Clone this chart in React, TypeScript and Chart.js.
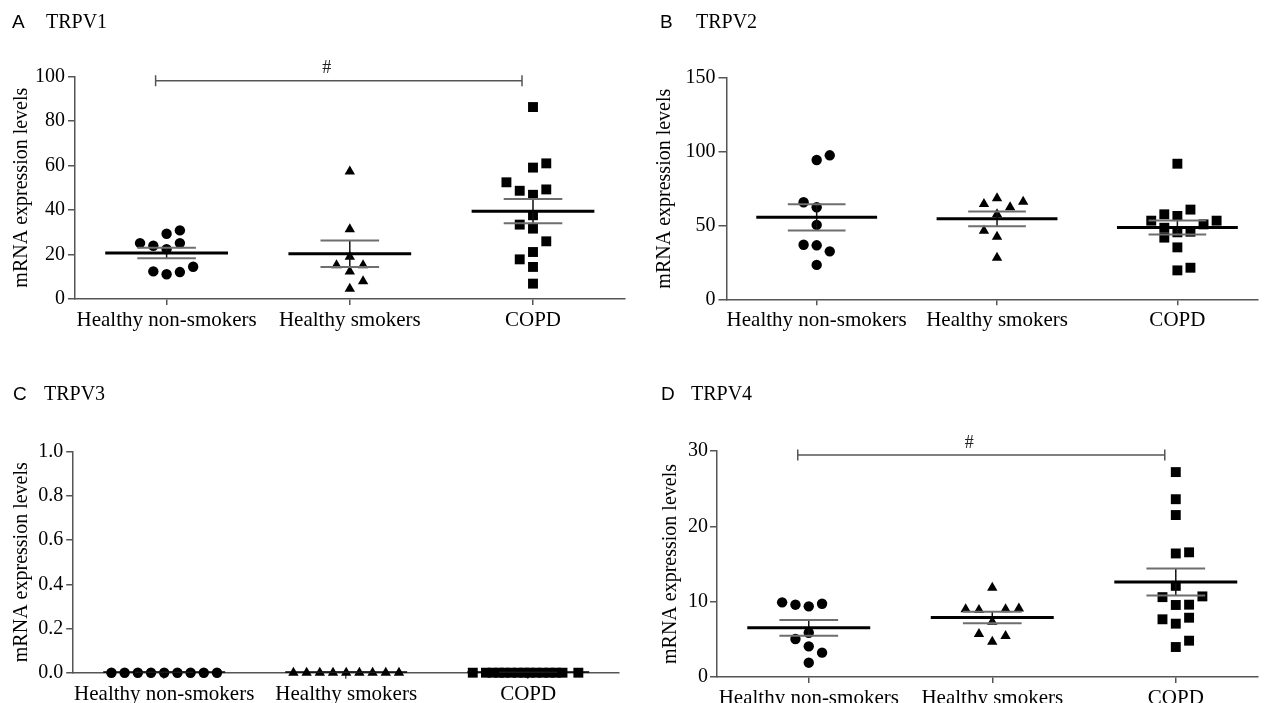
import React, { useEffect, useRef } from 'react';
import { Chart, registerables } from 'chart.js';

Chart.register(...registerables);

// ---------------- Data ----------------
const GROUPS = ['Healthy non-smokers', 'Healthy smokers', 'COPD'];

// TRPV1
const TRPV1_NS = [25.1, 23.9, 29.3, 30.8, 25.1, 22.4, 12.4, 11.1, 12.1, 14.5];
const TRPV1_NS_SLOT = [-2, -1, 0, 1, 1, 0, -1, 0, 1, 2];
const TRPV1_S = [57.2, 31.3, 19.0, 15.1, 15.1, 12.4, 8.0, 4.6];
const TRPV1_S_SLOT = [0, 0, 0, -1, 1, 0, 1, 0];
const TRPV1_COPD = [86.2, 60.9, 59.0, 52.4, 48.6, 49.2, 46.8, 37.6, 33.4, 31.6, 25.9, 21.1, 17.8, 14.4, 6.9];
const TRPV1_COPD_SLOT = [0, 1, 0, -2, -1, 1, 0, 0, -1, 0, 1, 0, -1, 0, 0];

// TRPV2
const TRPV2_NS = [94.4, 97.6, 65.8, 62.4, 50.4, 37.0, 36.6, 32.5, 23.3];
const TRPV2_NS_SLOT = [0, 1, -1, 0, 0, -1, 0, 1, 0];
const TRPV2_S = [68.5, 64.6, 62.4, 66.2, 57.6, 46.5, 42.4, 28.2];
const TRPV2_S_SLOT = [0, -1, 1, 2, 0, -1, 0, 0];
const TRPV2_COPD = [91.9, 60.8, 57.6, 56.5, 53.3, 53.3, 50.8, 48.5, 45.4, 45.8, 41.8, 35.2, 21.4, 19.6];
const TRPV2_COPD_SLOT = [0, 1, -1, 0, -2, 3, 2, -1, 0, 1, -1, 0, 1, 0];

// TRPV3
const TRPV3_NS = [0, 0, 0, 0, 0, 0, 0, 0, 0];
const TRPV3_NS_SLOT = [-4, -3, -2, -1, 0, 1, 2, 3, 4];
const TRPV3_S = [0, 0, 0, 0, 0, 0, 0, 0, 0];
const TRPV3_S_SLOT = [-4, -3, -2, -1, 0, 1, 2, 3, 4];
const TRPV3_COPD = [0, 0, 0, 0, 0, 0, 0, 0, 0, 0, 0, 0, 0, 0, 0];
const TRPV3_COPD_SLOT = [-4.2, -3.2, -2.7, -2.2, -1.8, -1.3, -0.8, -0.3, 0.1, 0.6, 1.1, 1.6, 2.1, 2.6, 3.8];

// TRPV4
const TRPV4_NS = [9.91, 9.6, 9.38, 9.73, 5.88, 5.04, 4.07, 3.23, 1.9];
const TRPV4_NS_SLOT = [-2, -1, 0, 1, 0, -1, 0, 1, 0];
const TRPV4_S = [11.85, 8.98, 8.89, 8.98, 9.1, 7.35, 5.7, 5.44, 4.69];
const TRPV4_S_SLOT = [0, -2, -1, 1, 2, 0, -1, 1, 0];
const TRPV4_COPD = [27.2, 23.6, 21.5, 16.4, 16.55, 12.1, 10.6, 10.7, 9.56, 9.6, 7.66, 7.87, 7.08, 4.82, 3.98];
const TRPV4_COPD_SLOT = [0, 0, 0, 0, 1, 0, -1, 2, 0, 1, -1, 1, 0, 1, 0];

// Y-axis ticks
const TRPV1_TICKS = [0, 20, 40, 60, 80, 100];
const TRPV2_TICKS = [0, 50, 100, 150];
const TRPV3_TICKS = [0, 0.2, 0.4, 0.6, 0.8, 1.0];
const TRPV4_TICKS = [0, 10, 20, 30];

// Significance brackets (group indices, y value, label)
const TRPV1_BRACKET = { from: 1, to: 3, y: 98, label: '#' };
const TRPV4_BRACKET = { from: 1, to: 3, y: 29.47, label: '#' };

// ---------------- Styles ----------------
const SERIF = "'Liberation Serif', 'Times New Roman', Times, serif";
const SANS = "'Liberation Sans', Arial, Helvetica, sans-serif";
const W = 1265;
const H = 703;
const STEP = 0.0725;
const MEAN_HALF = 0.335;
const SEM_HALF = 0.16;
const BRACKET_SHIFT = -0.06;
const AXIS_COLOR = '#555';
const MARKERS = [
  { style: 'circle', radius: 5.2 },
  { style: 'triangle', radius: 6 },
  { style: 'rect', radius: 7 },
];

type Series = { values: number[]; slots: number[] };
type PanelCfg = {
  letter: string;
  title: string;
  series: Series[];
  ticks: number[];
  decimals: number;
  xMax: number;
  bracket?: { from: number; to: number; y: number; label: string };
  box: { left: number; right: number; top: number; bottom: number; titleX: number; tickLen: number; tickPad: number };
  head: { letterX: number; titleX: number; baseline: number };
};

const PANELS: PanelCfg[] = [
  {
    letter: 'A',
    title: 'TRPV1',
    series: [
      { values: TRPV1_NS, slots: TRPV1_NS_SLOT },
      { values: TRPV1_S, slots: TRPV1_S_SLOT },
      { values: TRPV1_COPD, slots: TRPV1_COPD_SLOT },
    ],
    ticks: TRPV1_TICKS,
    decimals: 0,
    xMax: 3.5,
    bracket: TRPV1_BRACKET,
    box: { left: 75, right: 624.6, top: 76.3, bottom: 299, titleX: 22, tickLen: 7, tickPad: 3 },
    head: { letterX: 12, titleX: 46, baseline: 28 },
  },
  {
    letter: 'B',
    title: 'TRPV2',
    series: [
      { values: TRPV2_NS, slots: TRPV2_NS_SLOT },
      { values: TRPV2_S, slots: TRPV2_S_SLOT },
      { values: TRPV2_COPD, slots: TRPV2_COPD_SLOT },
    ],
    ticks: TRPV2_TICKS,
    decimals: 0,
    xMax: 3.447,
    box: { left: 726.5, right: 1265, top: 78, bottom: 299.3, titleX: 664.4, tickLen: 8, tickPad: 3 },
    head: { letterX: 660, titleX: 696, baseline: 28 },
  },
  {
    letter: 'C',
    title: 'TRPV3',
    series: [
      { values: TRPV3_NS, slots: TRPV3_NS_SLOT },
      { values: TRPV3_S, slots: TRPV3_S_SLOT },
      { values: TRPV3_COPD, slots: TRPV3_COPD_SLOT },
    ],
    ticks: TRPV3_TICKS,
    decimals: 1,
    xMax: 3.5,
    box: { left: 73.2, right: 619.2, top: 451.7, bottom: 672.7, titleX: 21.7, tickLen: 7, tickPad: 3 },
    head: { letterX: 13, titleX: 44, baseline: 400 },
  },
  {
    letter: 'D',
    title: 'TRPV4',
    series: [
      { values: TRPV4_NS, slots: TRPV4_NS_SLOT },
      { values: TRPV4_S, slots: TRPV4_S_SLOT },
      { values: TRPV4_COPD, slots: TRPV4_COPD_SLOT },
    ],
    ticks: TRPV4_TICKS,
    decimals: 0,
    xMax: 3.448,
    bracket: TRPV4_BRACKET,
    box: { left: 717, right: 1265, top: 451, bottom: 677, titleX: 670.5, tickLen: 7, tickPad: 2 },
    head: { letterX: 661, titleX: 691, baseline: 400 },
  },
];

function meanSem(vals: number[]) {
  const n = vals.length;
  const mean = vals.reduce((a, b) => a + b, 0) / n;
  const ss = vals.reduce((a, b) => a + (b - mean) * (b - mean), 0);
  const sd = n > 1 ? Math.sqrt(ss / (n - 1)) : 0;
  return { mean, sem: sd / Math.sqrt(n) };
}

function makeOverlay(p: PanelCfg) {
  return {
    id: 'overlay' + p.letter,
    afterDatasetsDraw(chart: any) {
      const { ctx, chartArea: ca } = chart;
      const x = chart.scales.x;
      const y = chart.scales.y;
      const seg = (x1: number, y1: number, x2: number, y2: number) => {
        ctx.beginPath();
        ctx.moveTo(x1, y1);
        ctx.lineTo(x2, y2);
        ctx.stroke();
      };
      ctx.save();
      ctx.beginPath();
      ctx.rect(ca.left, ca.top, ca.right - ca.left, ca.bottom - ca.top);
      ctx.clip();
      p.series.forEach((s, gi) => {
        const { mean, sem } = meanSem(s.values);
        const c = gi + 1;
        ctx.lineCap = 'butt';
        ctx.strokeStyle = '#111';
        ctx.lineWidth = 1.5;
        seg(x.getPixelForValue(c), y.getPixelForValue(mean - sem), x.getPixelForValue(c), y.getPixelForValue(mean + sem));
        ctx.strokeStyle = '#6e6e6e';
        ctx.lineWidth = 2;
        [mean - sem, mean + sem].forEach((v) => {
          seg(x.getPixelForValue(c - SEM_HALF), y.getPixelForValue(v), x.getPixelForValue(c + SEM_HALF), y.getPixelForValue(v));
        });
        ctx.strokeStyle = '#000';
        ctx.lineWidth = 3;
        seg(x.getPixelForValue(c - MEAN_HALF), y.getPixelForValue(mean), x.getPixelForValue(c + MEAN_HALF), y.getPixelForValue(mean));
      });
      ctx.restore();
    },
    afterDraw(chart: any) {
      const { ctx } = chart;
      const x = chart.scales.x;
      const y = chart.scales.y;
      ctx.save();
      ctx.fillStyle = '#000';
      ctx.textBaseline = 'alphabetic';
      ctx.textAlign = 'left';
      ctx.font = `19px ${SANS}`;
      ctx.fillText(p.letter, p.head.letterX, p.head.baseline);
      ctx.font = `20px ${SERIF}`;
      ctx.fillText(p.title, p.head.titleX, p.head.baseline);
      if (p.bracket) {
        const b = p.bracket;
        const x1 = x.getPixelForValue(b.from + BRACKET_SHIFT);
        const x2 = x.getPixelForValue(b.to + BRACKET_SHIFT);
        const yy = y.getPixelForValue(b.y);
        ctx.strokeStyle = AXIS_COLOR;
        ctx.lineWidth = 1.5;
        ctx.beginPath();
        ctx.moveTo(x1, yy);
        ctx.lineTo(x2, yy);
        ctx.moveTo(x1, yy - 5.5);
        ctx.lineTo(x1, yy + 5.5);
        ctx.moveTo(x2, yy - 5.5);
        ctx.lineTo(x2, yy + 5.5);
        ctx.stroke();
        ctx.fillStyle = '#222';
        ctx.font = `18px ${SERIF}`;
        ctx.textAlign = 'center';
        ctx.textBaseline = 'middle';
        ctx.fillText(b.label, (x1 + x2) / 2 - 12, yy - 12);
      }
      ctx.restore();
    },
  };
}

function buildConfig(p: PanelCfg): any {
  const padLeft = p.box.titleX - 12;
  const yWidth = p.box.left - padLeft;
  const xHeight = Math.min(40, H - p.box.bottom);
  const yMax = p.ticks[p.ticks.length - 1];
  const datasets = p.series.map((s, gi) => ({
    label: GROUPS[gi],
    data: s.values.map((v, i) => ({ x: gi + 1 + s.slots[i] * STEP, y: v })),
    pointStyle: MARKERS[gi].style,
    pointRadius: MARKERS[gi].radius,
    pointHoverRadius: MARKERS[gi].radius,
    backgroundColor: '#000',
    borderColor: '#000',
    pointBorderWidth: 0,
    borderWidth: 0,
    showLine: false,
    clip: false,
  }));
  return {
    type: 'scatter',
    data: { datasets },
    options: {
      responsive: false,
      animation: false,
      events: [],
      layout: {
        padding: {
          left: padLeft,
          right: W - p.box.right,
          top: p.box.top,
          bottom: Math.max(0, H - p.box.bottom - xHeight),
        },
      },
      plugins: {
        legend: { display: false },
        tooltip: { enabled: false },
        title: { display: false },
      },
      scales: {
        x: {
          type: 'linear',
          min: 0.5,
          max: p.xMax,
          afterFit: (scale: any) => {
            scale.height = xHeight;
          },
          afterBuildTicks: (scale: any) => {
            scale.ticks = GROUPS.map((_, i) => ({ value: i + 1 }));
          },
          grid: {
            display: true,
            drawOnChartArea: false,
            drawTicks: true,
            tickLength: 6,
            color: AXIS_COLOR,
            lineWidth: 1.5,
          },
          border: { display: true, color: AXIS_COLOR, width: 1.5 },
          ticks: {
            autoSkip: false,
            maxRotation: 0,
            minRotation: 0,
            padding: 3,
            color: '#000',
            font: { family: SERIF, size: 21 },
            callback: (v: number) => GROUPS[Math.round(v) - 1],
          },
        },
        y: {
          type: 'linear',
          min: 0,
          max: yMax,
          afterFit: (scale: any) => {
            scale.width = yWidth;
          },
          afterBuildTicks: (scale: any) => {
            scale.ticks = p.ticks.map((v) => ({ value: v }));
          },
          grid: {
            display: true,
            drawOnChartArea: false,
            drawTicks: true,
            tickLength: p.box.tickLen,
            color: AXIS_COLOR,
            lineWidth: 1.5,
          },
          border: { display: true, color: AXIS_COLOR, width: 1.5 },
          title: {
            display: true,
            text: 'mRNA expression levels',
            color: '#000',
            padding: 0,
            font: { family: SERIF, size: 20 },
          },
          ticks: {
            padding: p.box.tickPad,
            color: '#000',
            font: { family: SERIF, size: 20 },
            callback: (v: number) => Number(v).toFixed(p.decimals),
          },
        },
      },
    },
    plugins: [makeOverlay(p)],
  };
}

function PanelCanvas({ panel }: { panel: PanelCfg }) {
  const ref = useRef<HTMLCanvasElement | null>(null);
  useEffect(() => {
    if (!ref.current) return;
    const chart = new Chart(ref.current, buildConfig(panel));
    return () => chart.destroy();
  }, [panel]);
  return (
    <canvas
      ref={ref}
      width={W}
      height={H}
      style={{ position: 'absolute', left: 0, top: 0, width: W, height: H }}
    />
  );
}

export default function App() {
  return (
    <div
      style={{
        position: 'fixed',
        left: 0,
        top: 0,
        width: W,
        height: H,
        background: '#fff',
        overflow: 'hidden',
      }}
    >
      {PANELS.map((p) => (
        <PanelCanvas key={p.letter} panel={p} />
      ))}
    </div>
  );
}
